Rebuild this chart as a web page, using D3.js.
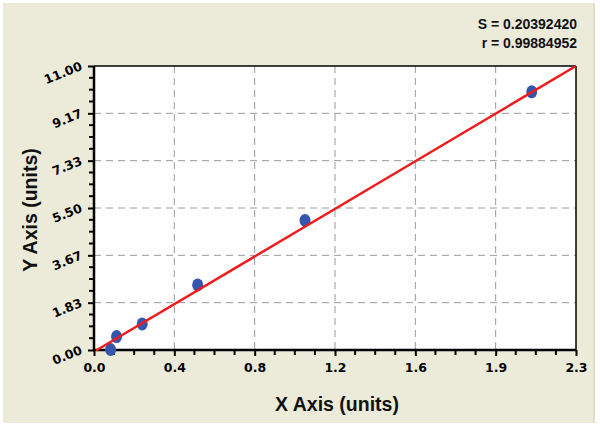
<!DOCTYPE html>
<html><head><meta charset="utf-8">
<script src="https://cdn.jsdelivr.net/npm/d3@7"></script>
<style>
html,body{margin:0;padding:0;background:#fff;}
svg{display:block;}
text{font-family:"Liberation Sans",Arial,sans-serif;font-weight:bold;fill:#111;}
text.tk{font-family:"DejaVu Sans",Verdana,sans-serif;font-size:12.5px;fill:#000;}
</style></head>
<body>
<svg id="c" width="600" height="427"></svg>
<script>
// ---- data ----
const pointsX = [0.080, 0.109, 0.233, 0.501, 1.020, 2.116];
const pointsY = [0.02, 0.52, 1.01, 2.52, 5.02, 10.00];
const fitX = [0.01, 2.33];
const fitY = [-0.02, 11.0];
const xTickLabels = ["0.0","0.4","0.8","1.2","1.6","1.9","2.3"];
const yTickLabels = ["0.00","1.83","3.67","5.50","7.33","9.17","11.00"];
const xMax = 2.33, yMax = 11.0;
const statLines = ["S = 0.20392420", "r = 0.99884952"];
const xTitle = "X Axis (units)", yTitle = "Y Axis (units)";

// ---- layout ----
const svg = d3.select("#c");
const L = 94, R = 576, T = 66, B = 350;
svg.append("rect").attr("x",3).attr("y",3).attr("width",592).attr("height",420).attr("fill","#ECEAD9");
svg.append("rect").attr("x",593).attr("y",3).attr("width",2).attr("height",420).attr("fill","#E0DECB");

const x = d3.scaleLinear().domain([0, xMax]).range([L, R]);
const y = d3.scaleLinear().domain([0, yMax]).range([B, T]);
const xTicks = xTickLabels.map((d,i)=> i*xMax/(xTickLabels.length-1));
const yTicks = yTickLabels.map((d,i)=> i*yMax/(yTickLabels.length-1));

svg.append("rect").attr("x",L).attr("y",T).attr("width",R-L).attr("height",B-T).attr("fill","#fff");

// grid
const g = svg.append("g");
g.selectAll(".gx").data(xTicks.slice(1,-1)).join("line")
  .attr("x1",d=>x(d)).attr("x2",d=>x(d)).attr("y1",T).attr("y2",B)
  .attr("stroke","#9a9a9a").attr("stroke-width",1).attr("stroke-dasharray","7,5");
g.selectAll(".gy").data(yTicks.slice(1,-1)).join("line")
  .attr("y1",d=>y(d)).attr("y2",d=>y(d)).attr("x1",L).attr("x2",R)
  .attr("stroke","#9a9a9a").attr("stroke-width",1).attr("stroke-dasharray","7,5");

// minor ticks
const xMinor = [], yMinor = [];
for (let i=0;i<xTicks.length-1;i++) for (let k=1;k<4;k++) xMinor.push(xTicks[i]+(xTicks[i+1]-xTicks[i])*k/4);
for (let i=0;i<yTicks.length-1;i++) for (let k=1;k<4;k++) yMinor.push(yTicks[i]+(yTicks[i+1]-yTicks[i])*k/4);

const xAxis = d3.axisBottom(x).tickValues(xTicks).tickFormat((d,i)=>xTickLabels[i]).tickSize(6).tickPadding(7);
const xAx = svg.append("g").attr("transform",`translate(0,${B})`).call(xAxis);
xAx.select(".domain").remove();
xAx.selectAll("line").attr("stroke","#000").attr("stroke-width",2);
xAx.selectAll(".tick text").attr("class","tk");
svg.append("g").selectAll("line").data(xMinor).join("line")
  .attr("x1",d=>x(d)).attr("x2",d=>x(d)).attr("y1",B).attr("y2",B+5).attr("stroke","#000").attr("stroke-width",2);

const yAxis = d3.axisLeft(y).tickValues(yTicks).tickFormat((d,i)=>yTickLabels[i]).tickSize(6).tickPadding(5);
const yAx = svg.append("g").attr("transform",`translate(${L},0)`).call(yAxis);
yAx.select(".domain").remove();
yAx.selectAll("line").attr("stroke","#000").attr("stroke-width",2);
yAx.selectAll(".tick text").attr("class","tk")
  .attr("text-anchor","end").attr("x",0).attr("y",0).attr("dy",0)
  .attr("transform","translate(-11,3) rotate(-22)");
svg.append("g").selectAll("line").data(yMinor).join("line")
  .attr("y1",d=>y(d)).attr("y2",d=>y(d)).attr("x1",L-5).attr("x2",L).attr("stroke","#000").attr("stroke-width",2);

// border
svg.append("line").attr("x1",L).attr("x2",R).attr("y1",T).attr("y2",T).attr("stroke","#000").attr("stroke-width",1.5);
svg.append("line").attr("x1",R).attr("x2",R).attr("y1",T).attr("y2",B).attr("stroke","#000").attr("stroke-width",1.5);
svg.append("line").attr("x1",L).attr("x2",L).attr("y1",T).attr("y2",B+1).attr("stroke","#000").attr("stroke-width",2.5);
svg.append("line").attr("x1",L-1).attr("x2",R).attr("y1",B).attr("y2",B).attr("stroke","#000").attr("stroke-width",2.5);

// points
svg.append("g").selectAll("ellipse").data(pointsX.map((d,i)=>[d,pointsY[i]])).join("ellipse")
  .attr("cx",d=>x(d[0])).attr("cy",d=>y(d[1])).attr("rx",5.5).attr("ry",6.5).attr("fill","#3556AE");

// fit line
const line = d3.line().x(d=>x(d[0])).y(d=>y(d[1]));
svg.append("path").datum(fitX.map((d,i)=>[d,fitY[i]])).attr("d",line)
  .attr("fill","none").attr("stroke","#EE1C1C").attr("stroke-width",2.5);

// stats
svg.selectAll(".st").data(statLines).join("text").attr("class","st")
  .attr("x",577).attr("y",(d,i)=>29+i*19).attr("text-anchor","end").attr("font-size",14).text(d=>d);

// titles
svg.append("text").attr("x",337).attr("y",411).attr("text-anchor","middle").attr("font-size",19.5).text(xTitle);
svg.append("text").attr("transform","translate(37,210) rotate(-90)").attr("text-anchor","middle").attr("font-size",19.5).text(yTitle);
</script>
</body></html>
